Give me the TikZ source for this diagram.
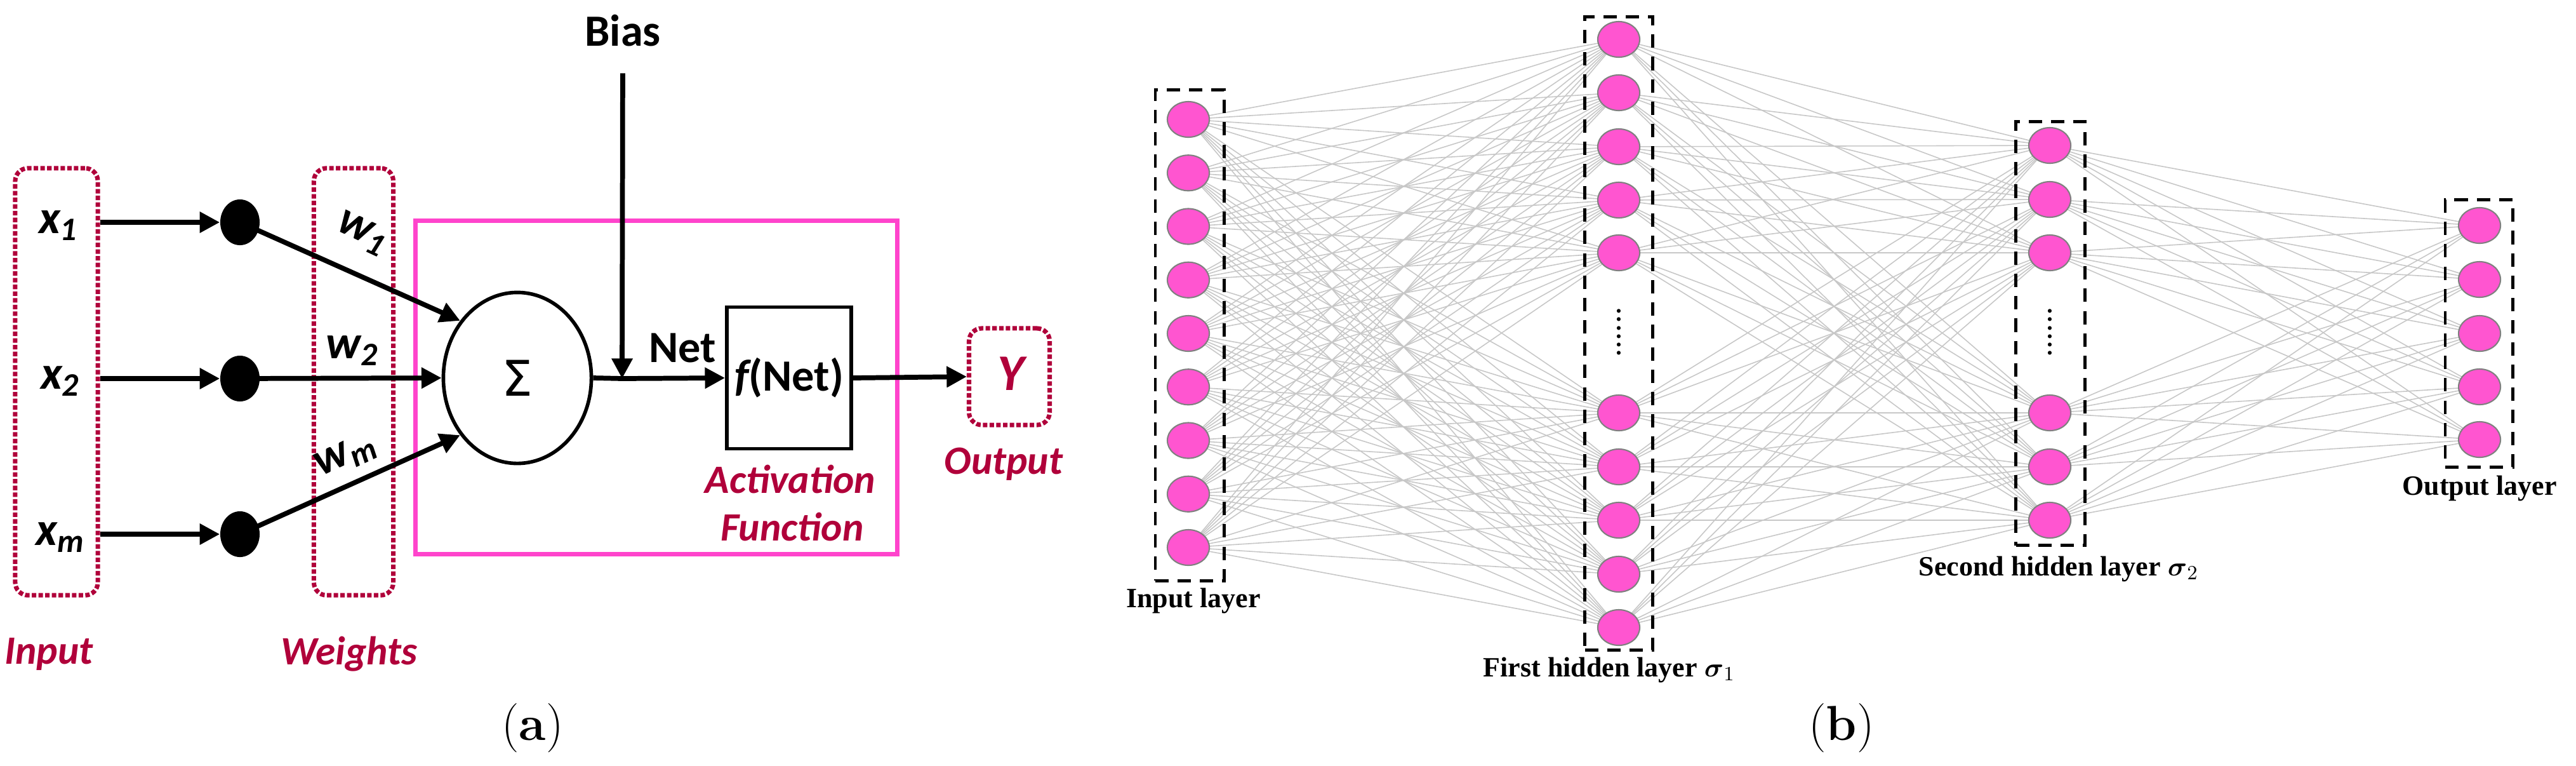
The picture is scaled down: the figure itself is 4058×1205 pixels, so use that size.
\documentclass[tikz,border=0pt]{standalone}
\usepackage{fontspec}
\usepackage{amsmath}
\newfontfamily\carl{Carlito}
\newfontfamily\dvs{DejaVu Sans}
\newfontfamily\tnr{Liberation Serif}
\usetikzlibrary{arrows.meta,backgrounds,shapes.geometric}
\definecolor{crim}{HTML}{B0003A}
\definecolor{pinkbox}{HTML}{FF44CC}
\definecolor{nodepink}{HTML}{FF55D0}
\begin{document}
\begin{tikzpicture}[x=0.01cm,y=-0.01cm,
  lab/.style={font=\carl\bfseries\fontsize{20}{24}\selectfont},
  var/.style={font=\carl\bfseries\itshape\fontsize{21}{24}\selectfont},
  red lab/.style={font=\carl\bfseries\itshape\fontsize{18}{22}\selectfont,text=crim},
  dotbox/.style={draw=crim,densely dotted,line width=2pt,rounded corners=0.2cm},
  arr/.style={line width=2.2pt,-{Triangle[length=9pt,width=9pt]}},
  dot/.style={ellipse,fill=black,minimum width=0.62cm,minimum height=0.72cm,inner sep=0pt},
  neuron/.style={ellipse,fill=nodepink,draw=gray,line width=0.6pt,minimum width=0.66cm,minimum height=0.56cm,inner sep=0pt},
  layerbox/.style={draw=black,dashed,dash pattern=on 6pt off 4pt,line width=1.4pt},
  edge/.style={draw=black!22,line width=0.45pt},
  nnlab/.style={font=\tnr\bfseries\fontsize{12.5}{15}\selectfont},
  subcap/.style={font=\fontsize{22}{26}\selectfont}]
\useasboundingbox (0,0) rectangle (4058,1205);

% ---------- (a) ----------
\node[dotbox,minimum width=1.3cm,minimum height=6.72cm] (inbox) at (89,601) {};
\node[dotbox,minimum width=1.25cm,minimum height=6.72cm] (wbox) at (557,601) {};
\node[draw=pinkbox,line width=2pt,minimum width=7.58cm,minimum height=5.25cm] (pbox) at (1034,610) {};

\node[var] (x1) at (92,355) {x\textsubscript{1}};
\node[var] (x2) at (95,600) {x\textsubscript{2}};
\node[var] (xm) at (95,846) {x\textsubscript{m}};
\node[dot] (d1) at (378,350) {};
\node[dot] (d2) at (378,596) {};
\node[dot] (dm) at (378,841) {};
\node[ellipse,draw,line width=1.6pt,minimum width=2.33cm,minimum height=2.69cm] (sum) at (815,595) {\dvs\fontsize{22}{24}\selectfont Σ};
\node[draw,line width=1.6pt,minimum width=1.96cm,minimum height=2.23cm,lab] (f) at (1243,595) {\itshape f\upshape(Net)};
\node[dotbox,minimum width=1.27cm,minimum height=1.52cm] (ybox) at (1590,593) {};
\node[red lab,font=\carl\bfseries\itshape\fontsize{23}{26}\selectfont] (y) at (1592,588) {Y};

\node[lab] (bias) at (981,48) {Bias};
\coordinate (bj) at (980,596);
\node[lab,anchor=west] (net) at (1010,548) {Net};

\draw[arr] (inbox.east|-d1) -- (d1);
\draw[arr] (inbox.east|-d2) -- (d2);
\draw[arr] (inbox.east|-dm) -- (dm);
\draw[arr] (d1.center) -- (sum.135);
\draw[arr] (d2.center) -- (sum.west);
\draw[arr] (dm.center) -- (sum.-135);
\draw[line width=2.2pt] (sum.east) -- (bj);
\draw[arr] (bj) -- (f.west);
\draw[arr,shorten <=0.3cm] (bias.south) -- (bj);
\draw[arr] (f.east) -- (ybox.west);

\node[var,rotate=-25] (w1) at (570,368) {w\textsubscript{1}};
\node[var] (w2) at (555,552) {w\textsubscript{2}};
\node[var,rotate=25] (wm) at (545,718) {w\textsubscript{m}};

\node[red lab] (act) at (1245,754) {Activation};
\node[red lab] (fun) at (1248,829) {Function};
\node[red lab] (out) at (1581,731) {Output};
\node[red lab] (inl) at (77,1030) {Input};
\node[red lab] (wl) at (550,1030) {Weights};
\node[subcap] (ca) at (839,1146) {(\textbf{a})};

% ---------- (b) ----------
\foreach \i in {0,...,8} \node[neuron] (A\i) at (1872,{188+84.25*\i}) {};
\foreach \y [count=\i from 0] in {62,146,231,315,398,650,735,819,904,988} \node[neuron] (B\i) at (2550,\y) {};
\foreach \y [count=\i from 0] in {229,314,398,650,735,819} \node[neuron] (C\i) at (3229,\y) {};
\foreach \y [count=\i from 0] in {355,440,525,609,692} \node[neuron] (D\i) at (3906,\y) {};

\begin{scope}[on background layer]
\foreach \a in {0,...,8} \foreach \b in {0,...,9} \draw[edge] (A\a.center) -- (B\b.center);
\foreach \a in {0,...,9} \foreach \b in {0,...,5} \draw[edge] (B\a.center) -- (C\b.center);
\foreach \a in {0,...,5} \foreach \b in {0,...,4} \draw[edge] (C\a.center) -- (D\b.center);
\end{scope}

\node[layerbox,minimum width=1.08cm,minimum height=7.72cm] (LA) at (1874,528) {};
\node[layerbox,minimum width=1.07cm,minimum height=9.96cm] (LB) at (2550,525) {};
\node[layerbox,minimum width=1.09cm,minimum height=6.67cm] (LC) at (3230,525) {};
\node[layerbox,minimum width=1.06cm,minimum height=4.21cm] (LD) at (3905,525) {};

\node[rotate=90,font=\bfseries\fontsize{12}{12}\selectfont] (dB) at (2550,523) {......};
\node[rotate=90,font=\bfseries\fontsize{12}{12}\selectfont] (dC) at (3229,523) {......};

\node[nnlab] (la) at (1880,946) {Input layer};
\node[nnlab] (lb) at (2535,1055) {First hidden layer $\boldsymbol{\sigma}_{1}$};
\node[nnlab] (lc) at (3243,896) {Second hidden layer $\boldsymbol{\sigma}_{2}$};
\node[nnlab] (ld) at (3906,769) {Output layer};
\node[subcap] (cb) at (2901,1146) {(\textbf{b})};
\end{tikzpicture}
\end{document}
